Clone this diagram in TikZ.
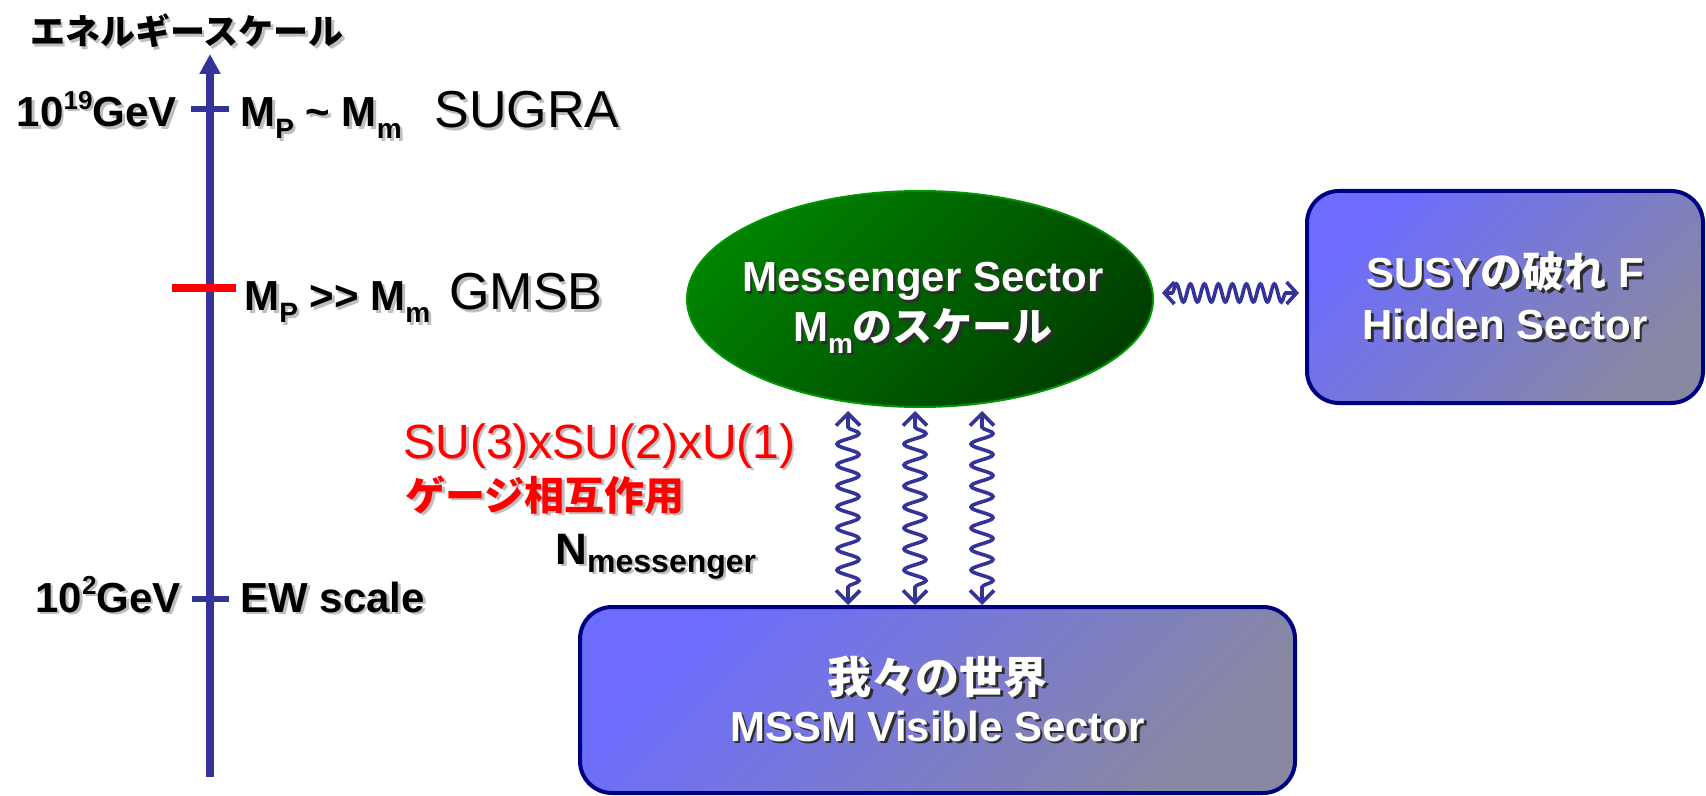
\documentclass[tikz,border=0pt]{standalone}
\usepackage{fontspec}
\setmainfont{Liberation Sans}
\newfontfamily\jp{Noto Sans CJK JP}
\usetikzlibrary{arrows.meta,decorations.pathmorphing,shapes.geometric,calc}
\definecolor{axisblue}{RGB}{51,51,153}
\definecolor{boxborder}{RGB}{0,0,130}
\definecolor{boxlight}{RGB}{108,108,255}
\definecolor{boxdark}{RGB}{136,136,162}
\definecolor{glight}{RGB}{0,130,0}
\definecolor{gdark}{RGB}{0,62,0}
\definecolor{gborder}{RGB}{0,150,0}
\definecolor{shlight}{RGB}{190,190,190}
\definecolor{shdark}{RGB}{45,45,45}
\definecolor{gaugered}{RGB}{255,0,0}
\newcommand\shd[2]{\makebox[0pt][l]{\kern1.3pt\raisebox{-1.3pt}{\color{#1}#2}}#2}
\newcommand\lo[1]{\raisebox{-0.28em}{\fontsize{14}{14}\selectfont #1}}
\newcommand\hi[1]{\raisebox{0.42em}{\fontsize{13}{13}\selectfont #1}}
\begin{document}
\begin{tikzpicture}[x=0.5pt,y=-0.5pt,
  lbl/.style={inner sep=0pt, font=\bfseries\fontsize{21}{25}\selectfont},
  big/.style={inner sep=0pt, font=\fontsize{26}{30}\selectfont},
  jptitle/.style={inner sep=0pt, font=\jp\bfseries\fontsize{17.5}{20}\selectfont},
  gaugetxt/.style={inner sep=0pt, text=gaugered, font=\fontsize{24}{28}\selectfont},
  gaugejp/.style={inner sep=0pt, text=gaugered, font=\jp\bfseries\fontsize{20}{24}\selectfont},
  axisline/.style={draw=axisblue, line width=4pt, -{Triangle[length=10pt,width=10pt]}},
  tickmark/.style={draw=axisblue, line width=3pt},
  redtick/.style={draw=gaugered, line width=4pt},
  sector/.style={rectangle, draw=boxborder, line width=2pt, rounded corners=16pt,
    top color=boxlight, bottom color=boxdark, shading angle=45,
    text=white, align=center, inner sep=0pt,
    font=\bfseries\fontsize{21}{25}\selectfont},
  messenger/.style={ellipse, draw=gborder, line width=1pt,
    top color=glight, bottom color=gdark, shading angle=45,
    inner sep=0pt, minimum width=233pt, minimum height=108pt},
  msgtext/.style={text=white, align=center, inner sep=0pt,
    font=\bfseries\fontsize{21}{25}\selectfont},
  wavy/.style={draw=axisblue, line width=1.8pt,
    {Straight Barb[length=6pt,width=12pt]}-{Straight Barb[length=6pt,width=12pt]},
    decorate, decoration={snake, amplitude=5.5pt, segment length=10.5pt, pre length=8pt, post length=8pt}},
  hwavy/.style={draw=axisblue, line width=1.8pt,
    {Straight Barb[length=5pt,width=11pt]}-{Straight Barb[length=5pt,width=11pt]},
    decorate, decoration={snake, amplitude=4.5pt, segment length=7pt, pre length=5pt, post length=5pt}}
]
\useasboundingbox (0,0) rectangle (1706,796);

% energy axis
\coordinate (axbot) at (210,777);
\coordinate (axtop) at (210,54);
\draw[axisline] (axbot) -- (axtop);
\draw[tickmark] (191,109) -- (229,109);
\draw[redtick] (172,288) -- (236,288);
\draw[tickmark] (192,599) -- (229,599);

\node[jptitle, anchor=west] (title) at (30,32) {\shd{shlight}{エネルギースケール}};
\node[lbl, anchor=base east] (e19) at (177,127) {\shd{shlight}{10\hi{19}GeV}};
\node[lbl, anchor=base west] (mpsim) at (240,127) {\shd{shlight}{M\lo{P} \textasciitilde{} M\lo{m}}};
\node[big, anchor=base west] (sugra) at (434,128) {\shd{shlight}{SUGRA}};
\node[lbl, anchor=base west] (mpgg) at (244,311) {\shd{shlight}{M\lo{P} >{}> M\lo{m}}};
\node[big, anchor=base west] (gmsb) at (449,310) {\shd{shlight}{GMSB}};
\node[lbl, anchor=base east] (e2) at (181,612) {\shd{shlight}{10\hi{2}GeV}};
\node[lbl, anchor=base west] (ew) at (240,612) {\shd{shlight}{EW scale}};

% gauge labels
\node[gaugetxt, anchor=base west] (gauge) at (403,458) {\shd{shlight}{SU(3)xSU(2)xU(1)}};
\node[gaugejp, anchor=west] (gaugej) at (405,496) {\shd{shlight}{ゲージ相互作用}};
\node[inner sep=0pt, anchor=base west, font=\bfseries\fontsize{22}{26}\selectfont] (nmess) at (555,564)
  {\shd{shlight}{N\raisebox{-4pt}{\fontsize{16}{16}\selectfont messenger}}};

% sectors
\node[messenger] (msg) at (920,299) {};
\node[msgtext] (msgt) at (923,309)
  {\shd{shdark}{Messenger Sector}\\[0pt]
   \shd{shdark}{M\lo{m}{\jp\fontsize{20}{24}\selectfont のスケール}}};
\node[sector, minimum width=198pt, minimum height=106pt] (hid) at (1505,297)
  {\shd{shdark}{SUSY{\jp\fontsize{21}{25}\selectfont の破れ} F}\\[1pt]
   \shd{shdark}{Hidden Sector}};
\node[sector, minimum width=357.5pt, minimum height=93pt] (vis) at (937.5,700)
  {\shd{shdark}{{\jp\fontsize{22}{26}\selectfont 我々の世界}}\\[-1pt]
   \shd{shdark}{MSSM Visible Sector}};

% wavy connectors
\coordinate (w1) at (848,0);
\coordinate (w2) at (915,0);
\coordinate (w3) at (982,0);
\draw[wavy] ($(msg.south -| w1)+(0,3)$) -- (vis.north -| w1);
\draw[wavy] ($(msg.south -| w2)+(0,3)$) -- (vis.north -| w2);
\draw[wavy] ($(msg.south -| w3)+(0,3)$) -- (vis.north -| w3);
\draw[hwavy] ($(msg.east)+(8,-6)$) -- ($(hid.west)+(-6,-4)$);
\end{tikzpicture}
\end{document}
